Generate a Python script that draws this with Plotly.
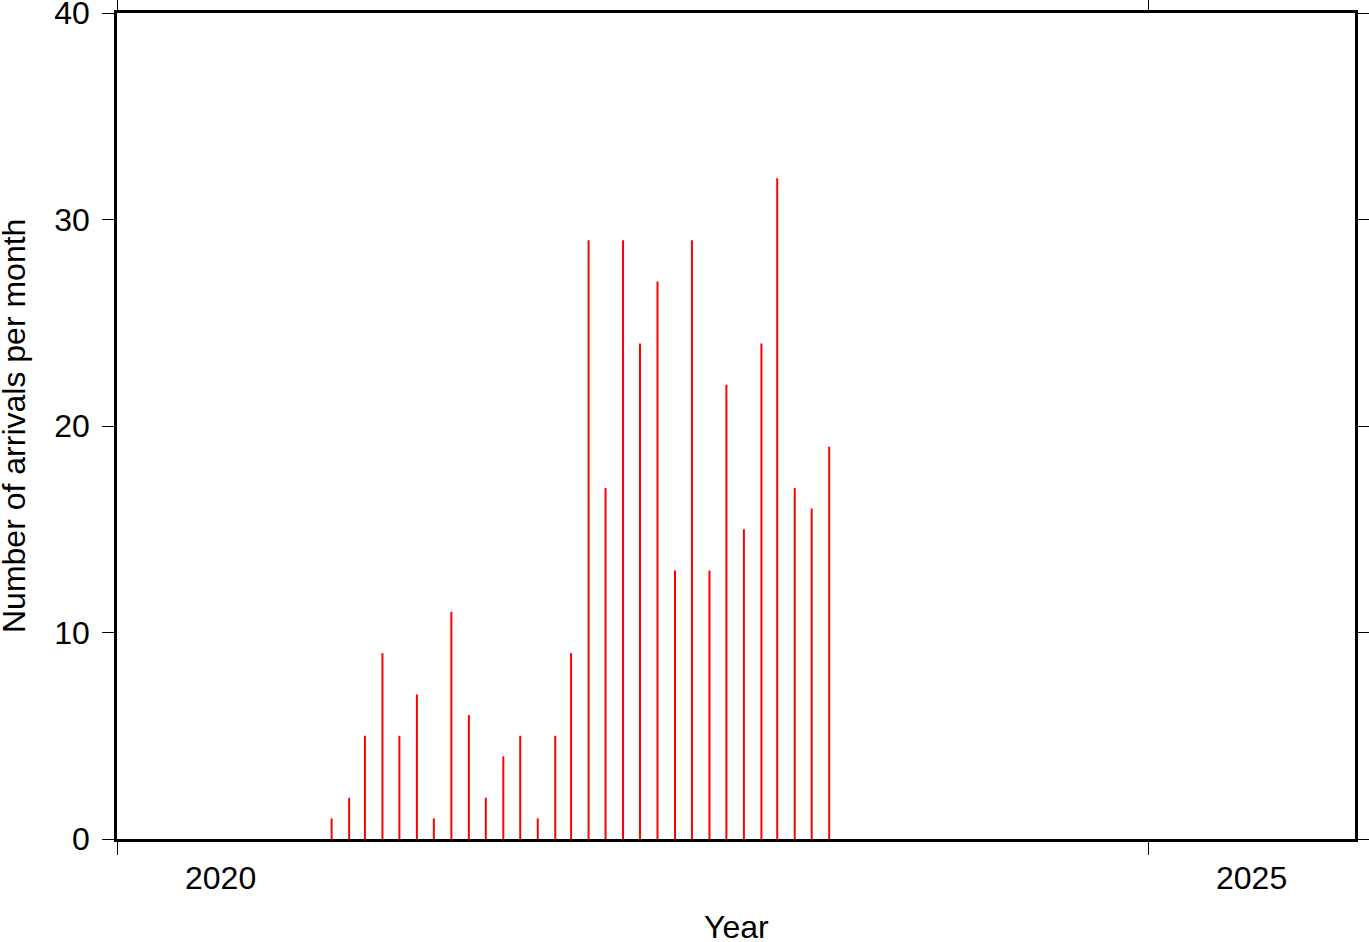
import plotly.graph_objects as go

months = [
    "2021-01-15", "2021-02-15", "2021-03-15", "2021-04-15", "2021-05-15", "2021-06-15",
    "2021-07-15", "2021-08-15", "2021-09-15", "2021-10-15", "2021-11-15", "2021-12-15",
    "2022-01-15", "2022-02-15", "2022-03-15", "2022-04-15", "2022-05-15", "2022-06-15",
    "2022-07-15", "2022-08-15", "2022-09-15", "2022-10-15", "2022-11-15", "2022-12-15",
    "2023-01-15", "2023-02-15", "2023-03-15", "2023-04-15", "2023-05-15", "2023-06-15",
]
counts = [1, 2, 5, 9, 5, 7, 1, 11, 6, 2, 4, 5, 1, 5, 9,
          29, 17, 29, 24, 27, 13, 29, 13, 22, 15, 24, 32, 17, 16, 19]

year_ticks = ["2020-01-01", "2025-01-01"]
year_label_pos = ["2020-07-02", "2025-07-02"]
year_labels = ["2020", "2025"]

FONT = "Liberation Sans, Arial, Helvetica, sans-serif"

xs, ys = [], []
for d, v in zip(months, counts):
    xs += [d, d, None]
    ys += [0, v, None]

fig = go.Figure()
fig.add_trace(go.Scatter(x=xs, y=ys, mode="lines",
                         line=dict(color="#ff0000", width=2),
                         hoverinfo="skip", showlegend=False))

annotations = []
for pos, lab in zip(year_label_pos, year_labels):
    annotations.append(dict(x=pos, xref="x", y=0, yref="paper", yanchor="top",
                            yshift=-19, text=lab, showarrow=False,
                            font=dict(size=32, color="black", family=FONT)))
annotations.append(dict(x=0.5, xref="paper", y=0, yref="paper", yanchor="middle",
                        yshift=-88, text="Year", showarrow=False,
                        font=dict(size=32, color="black", family=FONT)))
annotations.append(dict(x=0, xref="paper", y=0.5, yref="paper", xanchor="center",
                        xshift=-103, text="Number of arrivals per month", textangle=-90,
                        showarrow=False,
                        font=dict(size=32, color="black", family=FONT)))

fig.update_layout(
    width=1369, height=942,
    margin=dict(l=117, r=14, t=13, b=103, autoexpand=False),
    paper_bgcolor="white", plot_bgcolor="white",
    font=dict(family=FONT, size=32, color="black"),
    annotations=annotations,
    xaxis=dict(type="date", range=["2020-01-01", "2026-01-01"],
               tickvals=year_ticks, ticktext=["", ""], automargin=False,
               ticks="outside", ticklen=13, tickwidth=1, tickcolor="black",
               showline=True, linewidth=2.5, linecolor="black", mirror="ticks",
               showgrid=False, zeroline=False),
    yaxis=dict(range=[0, 40], dtick=10, tick0=0, automargin=False,
               ticks="outside", ticklen=12, tickwidth=1, tickcolor="black",
               ticklabeloverflow="allow", ticklabelstandoff=6,
               showline=True, linewidth=2.5, linecolor="black", mirror="ticks",
               showgrid=False, zeroline=False,
               tickfont=dict(size=32, family=FONT, color="black")),
)

fig.write_html("out.html",
               config={"displayModeBar": False},
               post_script="document.body.style.margin='0';document.body.style.overflow='hidden';")
